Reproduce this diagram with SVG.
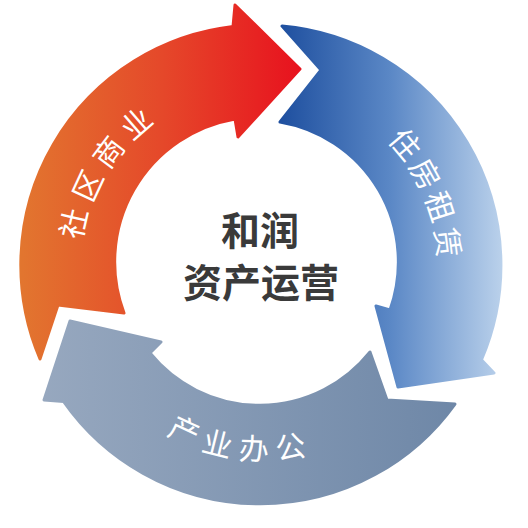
<svg xmlns="http://www.w3.org/2000/svg" width="528" height="528" viewBox="0 0 528 528">
  <defs>
    <linearGradient id="gOrange" gradientUnits="userSpaceOnUse" x1="20" y1="0" x2="305" y2="0">
      <stop offset="0" stop-color="#E2762F"/>
      <stop offset="0.5" stop-color="#E5482A"/>
      <stop offset="1" stop-color="#E8101E"/>
    </linearGradient>
    <linearGradient id="gBlue" gradientUnits="userSpaceOnUse" x1="280" y1="0" x2="502" y2="0">
      <stop offset="0" stop-color="#1E4F9F"/>
      <stop offset="0.5" stop-color="#5B88C6"/>
      <stop offset="1" stop-color="#BAD1EB"/>
    </linearGradient>
    <linearGradient id="gGray" gradientUnits="userSpaceOnUse" x1="40" y1="0" x2="460" y2="0">
      <stop offset="0" stop-color="#97A8BF"/>
      <stop offset="1" stop-color="#6E87A7"/>
    </linearGradient>
  </defs>
  <style>
    .band { stroke-width: 3; stroke-linejoin: round; }
    .lbl { font-family: "Noto Sans CJK SC", "Noto Sans", sans-serif; font-size: 30px; fill: #FFFFFF; text-anchor: middle; dominant-baseline: central; }
    .ctr { font-family: "Noto Sans CJK SC", "Noto Sans", sans-serif; font-size: 39px; font-weight: bold; fill: #3A3A3A; text-anchor: middle; dominant-baseline: central; }
  </style>
  <rect width="528" height="528" fill="#FFFFFF"/>

  <g id="community-commerce">
    <path class="band" fill="url(#gOrange)" stroke="url(#gOrange)" d="M 40,359 A 240 240 0 0 1 233,26.6 L 235,5 L 300,69 L 238,137 L 235,119 A 145 145 0 0 0 124,313 L 58,305 Z"/>
    <text class="lbl" transform="translate(72,223) rotate(-77)">社</text>
    <text class="lbl" transform="translate(86,185) rotate(-65)">区</text>
    <text class="lbl" transform="translate(107,151) rotate(-53)">商</text>
    <text class="lbl" transform="translate(135,122) rotate(-41)">业</text>
  </g>

  <g id="housing-rental">
    <path class="band" fill="url(#gBlue)" stroke="url(#gBlue)" d="M 282,26 A 240 240 0 0 1 481.4,359.9 L 494,373 L 398,387 L 376,306 L 390,310 A 142 142 0 0 0 280,122 L 321,70 Z"/>
    <text class="lbl" transform="translate(406.5,143) rotate(50)">住</text>
    <text class="lbl" transform="translate(427,173) rotate(61)">房</text>
    <text class="lbl" transform="translate(441.5,206) rotate(72)">租</text>
    <text class="lbl" transform="translate(449.5,242) rotate(83)">赁</text>
  </g>

  <g id="industrial-office">
    <path class="band" fill="url(#gGray)" stroke="url(#gGray)" d="M 455,404 A 240 240 0 0 1 63.7,401.6 L 44,400 L 70,321 L 161,342 L 150,353 A 141 141 0 0 0 370,352 L 387,400 Z"/>
    <text class="lbl" transform="translate(185,429) rotate(25)">产</text>
    <text class="lbl" transform="translate(218,442) rotate(14)">业</text>
    <text class="lbl" transform="translate(254,447) rotate(2.5)">办</text>
    <text class="lbl" transform="translate(290,445) rotate(-9)">公</text>
  </g>

  <g id="center-title">
    <text class="ctr" x="260" y="228">和润</text>
    <text class="ctr" x="261" y="280">资产运营</text>
  </g>
</svg>
